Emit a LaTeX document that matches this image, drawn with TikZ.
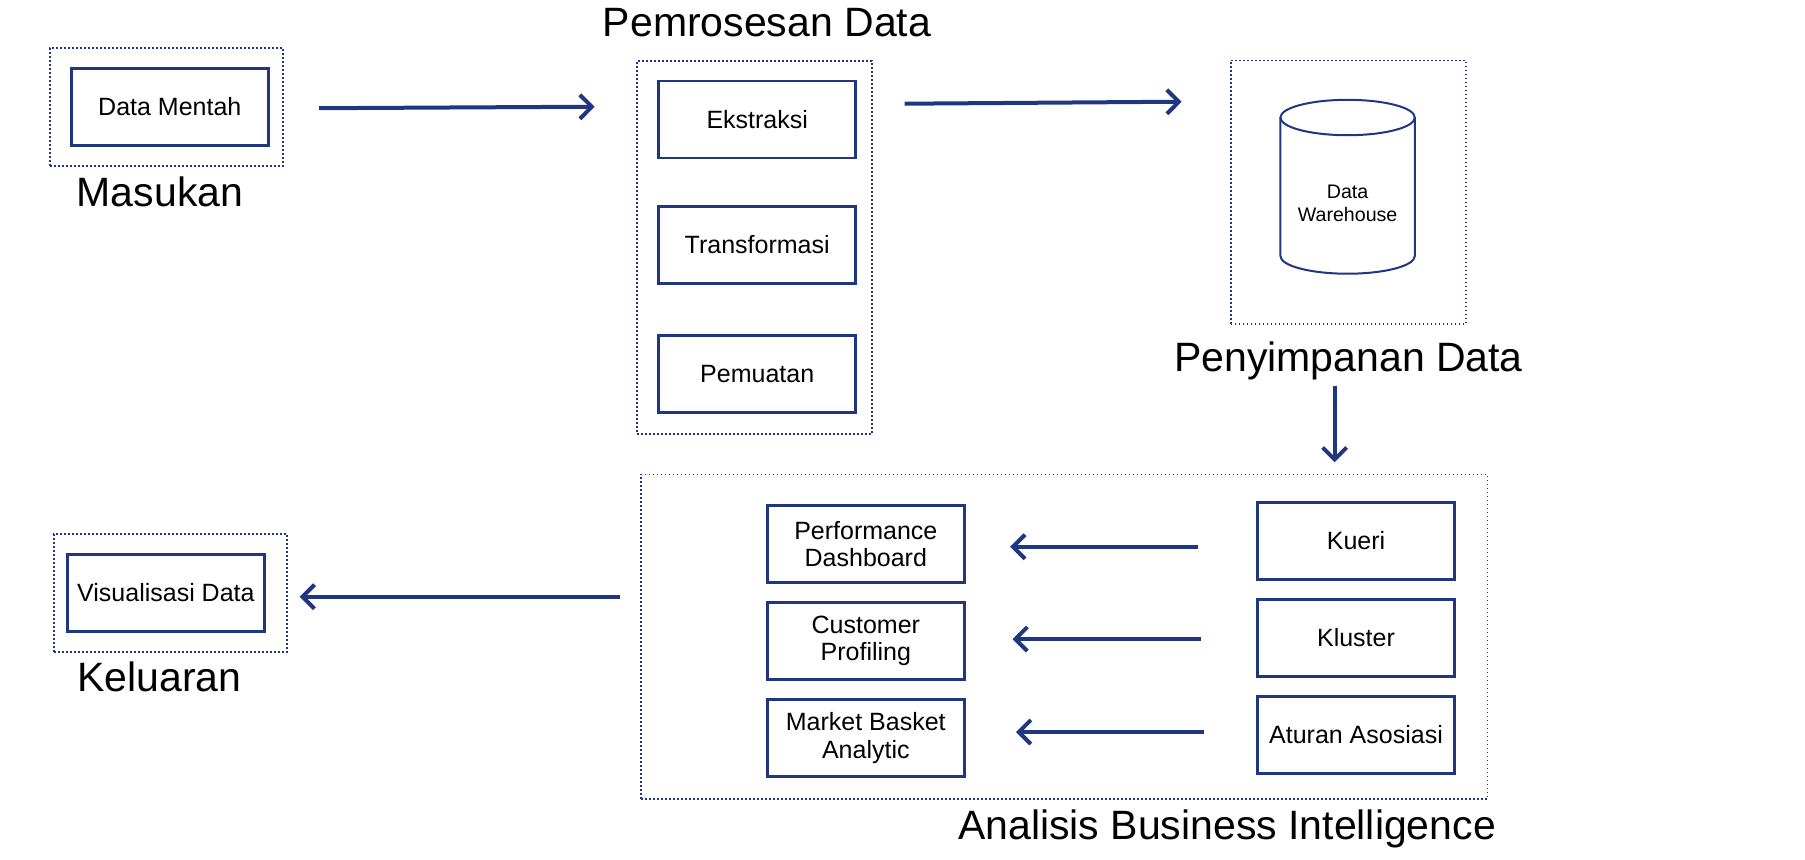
\documentclass[tikz,border=0pt]{standalone}
\usepackage{fontspec}
\setmainfont{Liberation Sans}
\usetikzlibrary{arrows.meta}
\definecolor{navy}{RGB}{31,54,129}
\newcommand{\boxfont}{\fontsize{12.5}{13.8}\selectfont}
\newcommand{\ttlfont}{\fontsize{20.5}{24}\selectfont}
\newcommand{\dbfont}{\fontsize{9.8}{11.2}\selectfont}

\begin{document}
\begin{tikzpicture}[x=0.5pt,y=-0.5pt,
    inbox/.style={draw=navy,line width=1.25pt,minimum width=98.5pt,minimum height=38.5pt,inner sep=0pt,align=center,font=\boxfont},
    grp/.style={draw=navy,line width=0.8pt,dash pattern=on 0.8pt off 1.2pt,inner sep=0pt},
    ttl/.style={anchor=base,font=\ttlfont,inner sep=0pt},
    flow/.style={draw=navy,line width=2pt,-{Straight Barb[length=6pt,width=12pt]}}]
    \useasboundingbox (0,0) rectangle (1805,859);
    \node[grp,minimum width=116.5pt,minimum height=59pt] (gin) at (166.5,107) {};
    \node[grp,minimum width=117.5pt,minimum height=186.5pt] (gproc) at (754.5,247.5) {};
    \node[grp,minimum width=117.75pt,minimum height=131.65pt] (gstore) at (1348.5,192.3) {};
    \node[grp,minimum width=423.2pt,minimum height=162.2pt] (gbi) at (1064.4,636.5) {};
    \node[grp,minimum width=116.5pt,minimum height=59pt] (gout) at (170.5,593) {};
    \node[inbox] (raw) at (169.8,106.9) {Data Mentah};
    \node[inbox] (ext) at (757.2,119.7) {Ekstraksi};
    \node[inbox] (trf) at (757.2,244.9) {Transformasi};
    \node[inbox] (load) at (757.2,373.9) {Pemuatan};
    \node[inbox] (dash) at (865.8,543.9) {Performance\\Dashboard};
    \node[inbox] (prof) at (865.8,640.9) {Customer\\Profiling};
    \node[inbox] (mba) at (865.8,737.9) {Market Basket\\Analytic};
    \node[inbox] (qry) at (1356,540.9) {Kueri};
    \node[inbox] (clu) at (1356,637.9) {Kluster};
    \node[inbox] (asc) at (1356,734.9) {Aturan Asosiasi};
    \node[inbox] (vis) at (165.9,592.9) {Visualisasi Data};
    \draw[navy,line width=1pt] (1280.4,117.5) -- (1280.4,256)
        arc[start angle=180,end angle=0,x radius=67.2,y radius=17.7] -- (1414.8,117.5);
    \draw[navy,line width=1pt] (1347.6,117.5) ellipse[x radius=67.2,y radius=17.7];
    \node[align=center,font=\dbfont,inner sep=0pt] (dw) at (1347.6,203.5) {Data\\Warehouse};
    \node[ttl] (tin) at (160,206.7) {Masukan};
    \node[ttl] (tproc) at (767,36.7) {Pemrosesan Data};
    \node[ttl] (tstore) at (1348.5,371.7) {Penyimpanan Data};
    \node[ttl] (tout) at (159.4,691.7) {Keluaran};
    \node[ttl] (tbi) at (1227,839.5) {Analisis Business Intelligence};
    \coordinate (a1) at (319,108.2);
    \coordinate (b1) at (594.7,106.7);
    \coordinate (a2) at (904.6,103.7);
    \coordinate (b2) at (1181.7,101.7);
    \coordinate (a3) at (1334.6,385.7);
    \coordinate (b3) at (1334.6,462.3);
    \coordinate (a4) at (620,596.7);
    \coordinate (b4) at (299.7,596.7);
    \coordinate (r1) at (1198.4,546.7);
    \coordinate (l1) at (1010.2,546.7);
    \coordinate (r2) at (1200.7,639);
    \coordinate (l2) at (1012.5,639);
    \coordinate (r3) at (1203.6,732);
    \coordinate (l3) at (1016,732);
    \path[flow] (a1) -- (b1);
    \path[flow] (a2) -- (b2);
    \path[flow] (a3) -- (b3);
    \path[flow] (a4) -- (b4);
    \path[flow] (r1) -- (l1);
    \path[flow] (r2) -- (l2);
    \path[flow] (r3) -- (l3);
\end{tikzpicture}
\end{document}
